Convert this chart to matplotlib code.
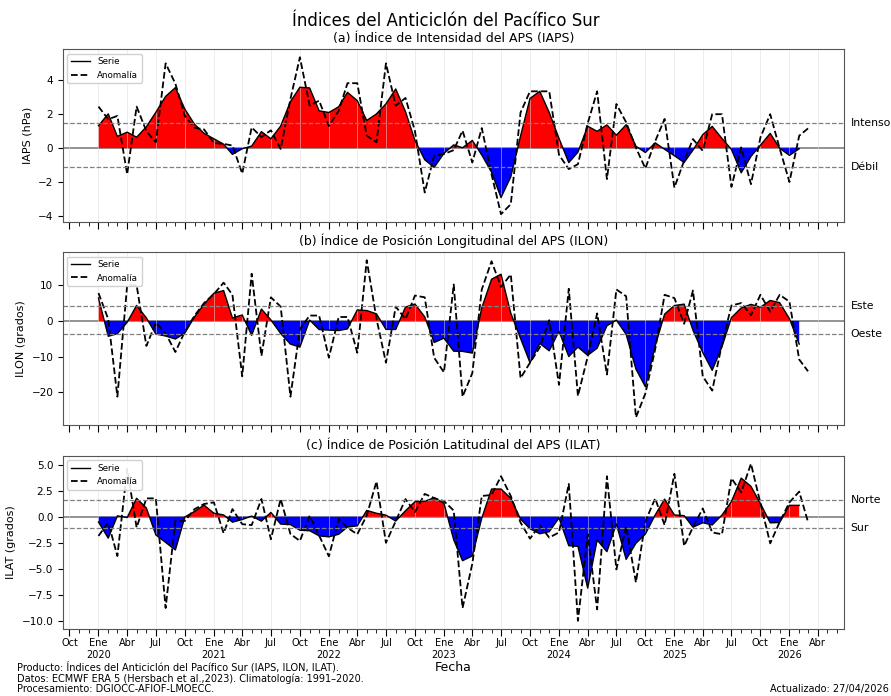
import numpy as np
import pandas as pd
import matplotlib
matplotlib.use("Agg")
import matplotlib.pyplot as plt
import matplotlib.dates as mdates
from matplotlib.ticker import FuncFormatter

# monthly anomalies Jan 2020 .. Mar 2026, 3-month running series Jan 2020 .. Feb 2026
fechas_anom = pd.date_range("2020-01-01", "2026-03-01", freq="MS")
fechas_serie = pd.date_range("2020-01-01", "2026-02-01", freq="MS")

iaps_anom = [2.45, 1.7, 1.9, -1.54, 2.45, 1.0, 0.34, 5.0, 3.8, 1.9, 1.2, 1.1,
             0.3, 0.25, 0.15, -1.5, 1.22, 0.65, 1.05, -0.05, 2.9, 5.36, 2.5, 2.8,
             1.3, 2.2, 3.83, 3.83, 0.73, 0.34, 5.0, 2.5, 2.96, 1.0, -2.62, -0.45,
             -0.35, -0.12, 1.03, -0.85, 1.18, -1.55, -3.9, -3.31, 2.1, 3.35, 3.35, 3.35,
             -0.4, -1.24, -0.95, 1.46, 3.35, -1.83, 2.6, 1.52, 0.02, -1.2, 0.4, 1.72,
             -2.33, -0.74, 0.53, -0.16, 2.0, 2.0, -2.29, 0.04, -2.13, 0.63, 2.0, -0.02,
             -2.0, 0.73, 1.16]
iaps_serie = [1.32, 2.02, 0.69, 0.94, 0.64, 1.26, 2.11, 3.05, 3.57, 2.30, 1.40, 0.87,
              0.55, 0.23, -0.37, -0.04, 0.12, 0.97, 0.55, 1.30, 2.74, 3.59, 3.55, 2.20,
              2.10, 2.44, 3.29, 2.80, 1.63, 2.02, 2.61, 3.49, 2.15, 0.45, -0.69, -1.14,
              -0.31, 0.19, 0.02, 0.45, -0.41, -1.42, -2.92, -1.70, 0.71, 2.93, 3.35, 2.10,
              0.57, -0.86, -0.24, 1.29, 0.99, 1.37, 0.76, 1.38, 0.11, -0.26, 0.31, -0.07,
              -0.45, -0.85, -0.12, 0.79, 1.28, 0.57, -0.08, -1.46, -0.49, 0.17, 0.87, -0.01,
              -0.43, -0.04]

ilon_anom = [7.8, 0.5, -21.2, 10.0, 10.0, -7.0, -0.5, -3.5, -8.7, -3.0, 1.5, 5.0,
             7.5, 10.7, 7.3, -15.5, 13.2, -9.8, 6.6, 4.0, -21.2, -2.3, 1.5, 1.5,
             -10.3, 1.1, 1.1, -8.9, 17.0, 0.6, -11.7, 4.0, 0.5, 7.1, 6.6, -10.3,
             -14.4, 10.2, -21.2, -14.6, 8.8, 16.7, 9.5, 13.0, -16.0, -11.7, -7.4, 0.2,
             -17.9, 9.0, -21.0, -10.0, 2.1, -15.0, 8.8, 6.9, -27.0, -20.3, -8.0, 7.3,
             6.4, -0.8, 8.5, -15.5, -19.5, -6.5, 4.3, 5.0, 1.6, 7.3, 2.6, 7.3,
             5.4, -10.8, -14.1]
ilon_serie = [6.4, -4.30, -3.57, -0.40, 4.33, 0.83, -3.67, -4.23, -5.07, -3.40, 1.17, 4.67,
              7.73, 8.50, 0.83, 1.67, -4.03, 3.33, 0.27, -3.53, -6.50, -7.33, 0.23, -2.43,
              -2.57, -2.70, -2.23, 3.07, 2.90, 1.97, -2.37, -2.40, 3.87, 4.73, 1.13, -6.03,
              -4.83, -8.47, -8.53, -9.00, 3.63, 11.67, 13.07, 2.17, -4.90, -11.70, -6.30, -8.37,
              -2.90, -9.97, -7.33, -9.63, -7.63, -1.37, 0.23, -3.77, -13.47, -18.43, -7.00, 1.90,
              4.30, 4.70, -2.60, -8.83, -13.83, -7.23, 0.93, 3.63, 4.63, 3.83, 5.73, 5.10,
              0.63, -6.50]

ilat_anom = [-1.84, -0.55, -3.77, 4.6, -1.03, 1.77, 1.77, -8.77, -0.39, -0.4, 0.74, 1.23,
             1.39, -1.58, 0.74, -0.71, -0.8, 1.71, -2.16, 1.71, -1.65, -2.32, 0.1, -1.8,
             -3.8, -0.2, -1.05, -1.68, 0.12, 3.4, -2.5, -0.42, 1.7, 0.46, 2.2, 1.8,
             1.5, 0.6, -8.77, -4.5, 2.0, 2.1, 3.9, 2.0, -0.55, -2.1, -0.8, -2.0,
             -1.5, 3.16, -10.0, -1.68, -8.9, 3.9, -5.06, -0.9, -6.3, -0.45, 1.77, -0.8,
             4.13, -2.8, -1.0, 0.8, -1.5, -1.68, 3.7, 2.35, 5.1, 1.3, -2.55, -0.5,
             1.39, 2.42, -0.5]
ilat_serie = [-0.5, -2.05, 0.09, -0.07, 1.78, 0.84, -1.74, -2.46, -3.19, -0.02, 0.52, 1.12,
              0.35, 0.18, -0.52, -0.26, 0.07, -0.42, 0.42, -0.70, -0.75, -1.29, -1.34, -1.83,
              -1.93, -1.68, -0.98, -0.87, 0.61, 0.34, 0.16, -0.41, 0.58, 1.45, 1.49, 1.83,
              1.30, -2.22, -4.22, -3.76, -0.13, 2.67, 2.67, 1.78, -0.22, -1.15, -1.63, -1.43,
              -0.11, -2.78, -2.84, -6.86, -2.23, -3.35, -0.69, -4.09, -2.55, -1.66, 0.17, 1.70,
              0.18, 0.11, -1.00, -0.57, -0.79, 0.17, 1.46, 3.72, 2.92, 1.28, -0.58, -0.55,
              1.10, 1.10]

paneles = [
    ("(a) Índice de Intensidad del APS (IAPS)", "IAPS (hPa)", iaps_anom, iaps_serie,
     (1.5, "Intenso"), (-1.1, "Débil")),
    ("(b) Índice de Posición Longitudinal del APS (ILON)", "ILON (grados)", ilon_anom, ilon_serie,
     (4.2, "Este"), (-3.8, "Oeste")),
    ("(c) Índice de Posición Latitudinal del APS (ILAT)", "ILAT (grados)", ilat_anom, ilat_serie,
     (1.6, "Norte"), (-1.1, "Sur")),
]

MESES = {1: "Ene", 4: "Abr", 7: "Jul", 10: "Oct"}


def _fmt_fecha(x, pos=None):
    d = mdates.num2date(x)
    lab = MESES.get(d.month, "")
    return f"{lab}\n{d.year}" if d.month == 1 else lab


def _panel(ax, titulo, ylab, anom, serie, sup, inf):
    s = np.asarray(serie)
    ax.fill_between(fechas_serie, s, 0, where=s >= 0, interpolate=True, color="red", lw=0)
    ax.fill_between(fechas_serie, s, 0, where=s <= 0, interpolate=True, color="blue", lw=0)
    ax.plot(fechas_serie, s, color="black", lw=1.0, label="Serie")
    ax.plot(fechas_anom, anom, color="black", ls="--", lw=1.3, label="Anomalía")
    ax.axhline(0, color="gray", lw=1.2, zorder=0.5)
    for yv, txt in (sup, inf):
        ax.axhline(yv, color="gray", ls="--", lw=0.9)
        ax.text(1.009, yv, txt, transform=ax.get_yaxis_transform(), va="center", ha="left", fontsize=7.8)
    ax.set_title(titulo, fontsize=9, pad=5)
    ax.set_ylabel(ylab, fontsize=8)
    ax.tick_params(labelsize=7.5)
    ax.xaxis.set_major_locator(mdates.MonthLocator(bymonth=[1, 4, 7, 10]))
    ax.xaxis.set_minor_locator(mdates.MonthLocator())
    ax.xaxis.set_major_formatter(FuncFormatter(_fmt_fecha))
    ax.tick_params(axis="x", which="major", length=5, labelsize=7, pad=2)
    ax.tick_params(axis="x", which="minor", length=3)
    ax.grid(axis="x", which="major", color="#dddddd", lw=0.6, alpha=0.6)
    for sp in ax.spines.values():
        sp.set_color("#555555")
    ax.legend(loc="upper left", fontsize=6.3, handlelength=2.2, framealpha=0.9)


fig = plt.figure(figsize=(8.91, 6.96), dpi=100)
bottoms = [0.681, 0.389, 0.0967]
heights = [0.248, 0.2485, 0.2483]
axes = []
for (tit, ylab, an, se, sup, inf), b, h in zip(paneles, bottoms, heights):
    ax = fig.add_axes([0.0707, b, 0.876, h], sharex=axes[0] if axes else None)
    _panel(ax, tit, ylab, an, se, sup, inf)
    axes.append(ax)
for ax in axes[:2]:
    ax.tick_params(axis="x", labelbottom=False)
axes[-1].set_xlabel("Fecha", fontsize=9, labelpad=1)

fig.suptitle("Índices del Anticiclón del Pacífico Sur", fontsize=12, y=0.983)
fig.text(0.019, 0.003, "Producto: Índices del Anticiclón del Pacífico Sur (IAPS, ILON, ILAT).\n"
         "Datos: ECMWF ERA 5 (Hersbach et al.,2023). Climatología: 1991–2020.\n"
         "Procesamiento: DGIOCC-AFIOF-LMOECC.", fontsize=7, va="bottom", ha="left", linespacing=1.05)
fig.text(0.998, 0.003, "Actualizado: 27/04/2026", fontsize=7, va="bottom", ha="right")
fig.savefig("out.png", dpi=100)
